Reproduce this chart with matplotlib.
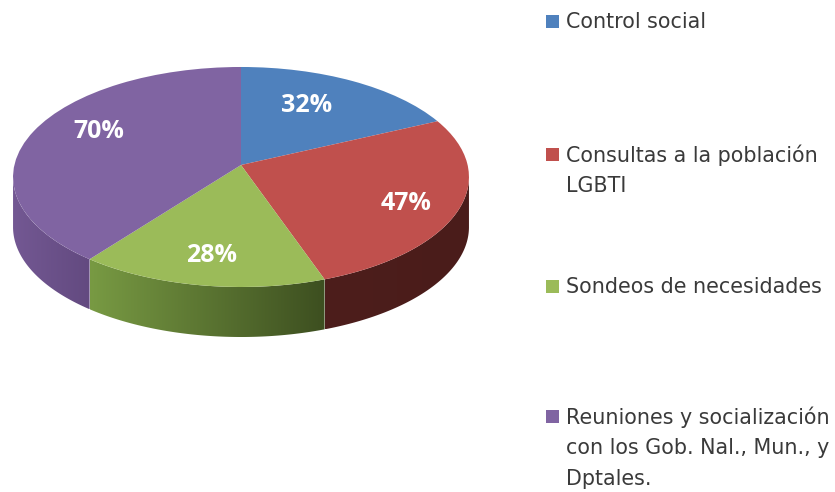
import numpy as np
import matplotlib
matplotlib.use('Agg')
import matplotlib.pyplot as plt
from matplotlib.patches import Rectangle, Polygon
from matplotlib.transforms import Transform

categorias = ['Control social', 'Consultas a la población\nLGBTI',
              'Sondeos de necesidades',
              'Reuniones y socialización\ncon los Gob. Nal., Mun., y\nDptales.']
valores = [32, 47, 28, 70]
colores = ['#4F81BD', '#C0504D', '#9BBB59', '#8064A2']

# color de la pared lateral (izquierda, derecha)
pared = [('#2f4d71', '#2f4d71'), ('#4d1e1c', '#4a1c1a'),
         ('#789a43', '#3d4f20'), ('#735893', '#634a80')]

# posiciones en pixeles de la imagen
pos_pct = [(307, 106), (406, 203), (212, 255), (99, 131)]
y_leyenda = [22, 155, 287, 417]

CX, CY = 241, 165    # vertice de la torta
A, B, K = 226.6, 108.7, 0.109   # perspectiva
ALTO = 50


def proyectar(x, y):
    d = 1 + K * y
    return CX + A * x / d, CY - B * y / d


class Perspectiva(Transform):
    input_dims = 2
    output_dims = 2

    def transform_non_affine(self, values):
        values = np.asarray(values)
        px, py = proyectar(values[:, 0], values[:, 1])
        return np.column_stack([px, py])


fig = plt.figure(figsize=(8.35, 4.92), dpi=100)
ax = fig.add_axes([0, 0, 1, 1])

wedges, _ = ax.pie(valores, colors=colores, startangle=90, counterclock=False)

trans = Perspectiva() + ax.transData
for w in wedges:
    w.set_transform(trans)
    w.set_linewidth(0)
    w.set_zorder(3)

# pared lateral: degradado recortado con la forma de cada porcion
for w, (c1, c2) in zip(wedges, pared):
    t = np.radians(np.linspace(w.theta1, w.theta2, 241))
    x, y = np.cos(t), np.sin(t)
    visible = y <= -K
    if not visible.any():
        continue
    px, py = proyectar(x[visible], y[visible])
    orden = np.argsort(px)
    px, py = px[orden], py[orden]
    forma = Polygon(np.column_stack([np.r_[px, px[::-1]],
                                     np.r_[py, py[::-1] + ALTO]]),
                    closed=True, transform=ax.transData, fc='none', lw=0)
    ax.add_patch(forma)
    f = np.linspace(0, 1, 256)[:, None]
    tira = np.array(matplotlib.colors.to_rgb(c1)) * (1 - f) + np.array(matplotlib.colors.to_rgb(c2)) * f
    im = ax.imshow(tira[None, :, :], extent=(px.min(), px.max(), py.max() + ALTO, py.min()),
                   aspect='auto', zorder=2, interpolation='bilinear')
    im.set_clip_path(forma)

ax.set_aspect('auto')
ax.set_xlim(0, 835)
ax.set_ylim(492, 0)
ax.axis('off')

for val, (x, y) in zip(valores, pos_pct):
    ax.text(x, y, f'{val}%', color='white', fontsize=18, fontweight='bold',
            family='Open Sans', ha='center', va='center', zorder=4)

for cat, col, y in zip(categorias, colores, y_leyenda):
    ax.add_patch(Rectangle((546, y - 7), 13, 13, color=col, lw=0))
    for j, linea in enumerate(cat.split('\n')):
        ax.text(566, y + j * 31, linea, color='#3a3a3a', fontsize=14.9,
                family='DejaVu Sans', ha='left', va='center')

fig.savefig('out.png', dpi=100)
